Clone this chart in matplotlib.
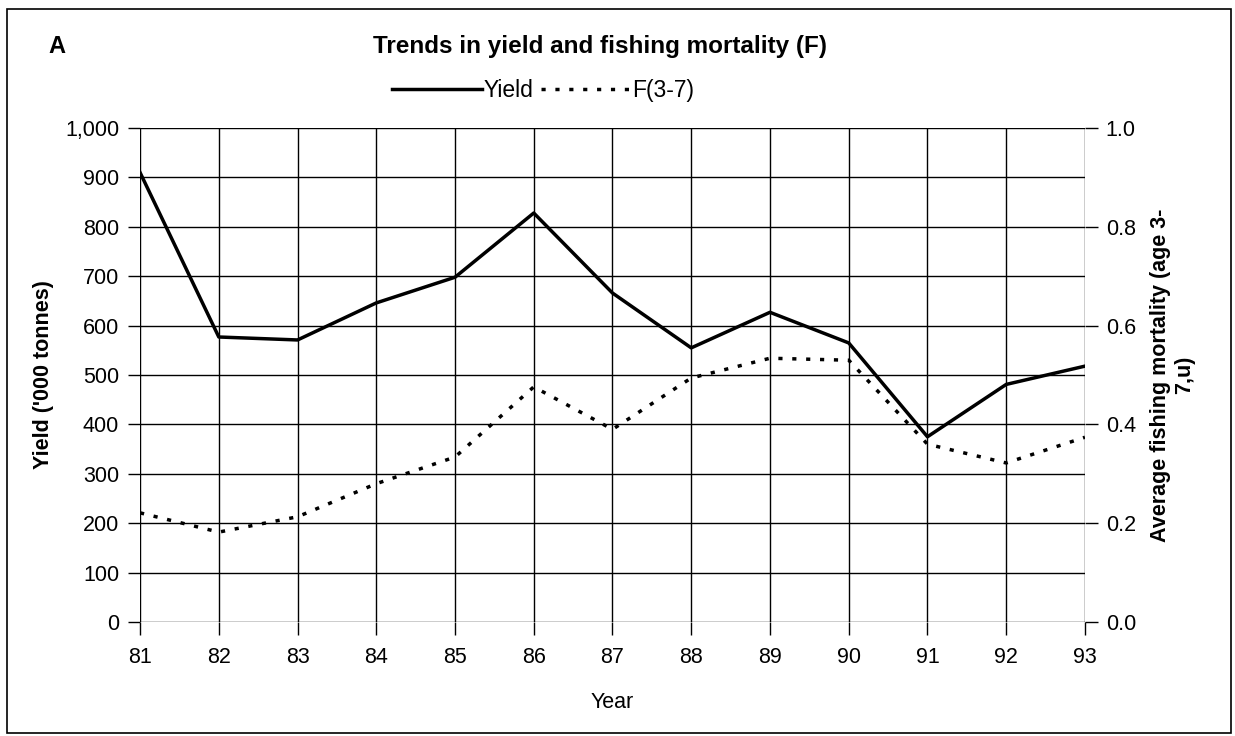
import numpy as np
import matplotlib.pyplot as plt
from matplotlib.patches import Rectangle
from matplotlib.ticker import FuncFormatter

plt.rcParams['font.family'] = ['Liberation Sans', 'DejaVu Sans']
plt.rcParams['font.size'] = 15.5

# data
years = [81, 82, 83, 84, 85, 86, 87, 88, 89, 90, 91, 92, 93]
yield_kt = [910, 577, 571, 646, 698, 828, 666, 555, 627, 565, 375, 481, 518]
f_37 = [0.221, 0.182, 0.213, 0.28, 0.334, 0.476, 0.39, 0.494, 0.534, 0.530, 0.36, 0.322, 0.374]

fig = plt.figure(figsize=(12.35, 7.36), dpi=100)
ax = fig.add_axes([0.1134, 0.1549, 0.7651, 0.6711])
ax2 = ax.twinx()

ax.plot(years, yield_kt, color='black', lw=2.5, label='Yield', zorder=3)
ax2.plot(years, f_37, color='black', lw=2.5, linestyle=(0, (1.2, 2.8)), label='F(3-7)', zorder=3)

ax.set_xlim(81, 93)
ax.set_ylim(0, 1000)
ax2.set_ylim(0, 1.0)
ax.set_xticks(years)
ax.set_yticks(np.arange(0, 1001, 100))
ax2.set_yticks([0, 0.2, 0.4, 0.6, 0.8, 1.0])
ax.yaxis.set_major_formatter(FuncFormatter(lambda v, p: f"{int(v):,}"))
ax2.yaxis.set_major_formatter(FuncFormatter(lambda v, p: f"{v:.1f}"))

ax.grid(True, color='black', lw=1.0)
ax.set_axisbelow(True)
for a in (ax, ax2):
    for s in a.spines.values():
        s.set_visible(False)
ax.tick_params(axis='both', length=9, width=1, direction='out', pad=6)
ax.tick_params(axis='x', pad=9)
ax2.tick_params(axis='y', length=9, width=1, direction='out', pad=6)

ax.set_xlabel('Year', labelpad=17)
ax.set_ylabel("Yield ('000 tonnes)", fontweight='bold', labelpad=8)
ax2.set_ylabel('Average fishing mortality (age 3-\n7,u)', fontweight='bold', labelpad=10)

fig.text(0.039, 0.937, 'A', fontsize=17, fontweight='bold', va='center')
fig.text(0.486, 0.937, 'Trends in yield and fishing mortality (F)', fontsize=17.5,
         fontweight='bold', ha='center', va='center')

h1, l1 = ax.get_legend_handles_labels()
h2, l2 = ax2.get_legend_handles_labels()
fig.legend(h1 + h2, l1 + l2, loc='center', bbox_to_anchor=(0.44, 0.877), ncol=2,
           frameon=False, handlelength=3.9, handletextpad=0.1, columnspacing=0.3, fontsize=16.5)

fig.patches.append(Rectangle((0.006, 0.004), 0.991, 0.984, transform=fig.transFigure,
                             fill=False, edgecolor='black', lw=1.2))

fig.savefig('out.png', dpi=100)
